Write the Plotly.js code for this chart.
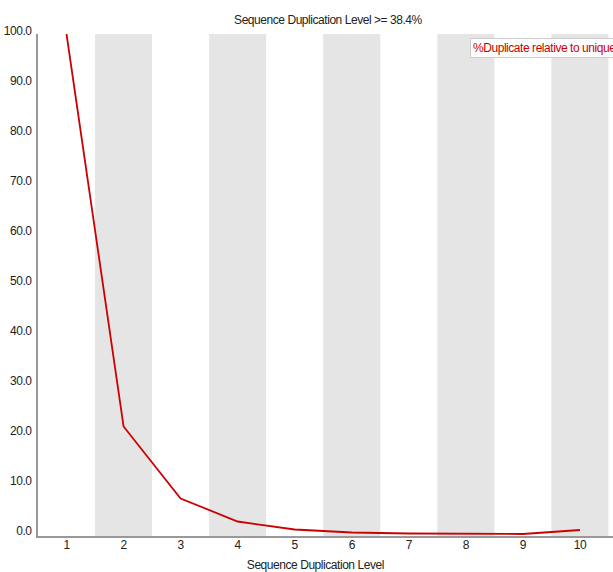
<!DOCTYPE html>
<html><head><meta charset="utf-8">
<script src="https://cdn.plot.ly/plotly-3.0.1.min.js"></script>
<style>html,body{margin:0;padding:0;background:#fff;overflow:hidden}
#chart text{letter-spacing:-0.45px;}</style>
</head><body>
<div id="chart" style="width:613px;height:572px"></div>
<script>
const levels = [1, 2, 3, 4, 5, 6, 7, 8, 9, 10];
const tickLabels = ["1", "2", "3", "4", "5", "6", "7", "8", "9", "10"];
const pctDuplicate = [100, 21.5, 7.1, 2.5, 0.9, 0.3, 0.1, 0.0, 0.0, 0.8];
const seriesName = "%Duplicate relative to unique";
const chartTitle = "Sequence Duplication Level >= 38.4%";
const xTitle = "Sequence Duplication Level";
const yTicks = [0, 10, 20, 30, 40, 50, 60, 70, 80, 90, 100];

const font = "'Liberation Sans', Arial, sans-serif";
const shapes = levels.filter(v => v % 2 === 0).map(v => ({
  type: "rect", xref: "x", yref: "paper", x0: v - 0.5, x1: v + 0.5, y0: 0, y1: 1,
  fillcolor: "#e5e5e5", line: {width: 0}, layer: "below"
}));

Plotly.newPlot("chart", [{
  x: levels, y: pctDuplicate, type: "scatter", mode: "lines", name: seriesName,
  line: {color: "#cc0000", width: 1.8}, showlegend: false
}], {
  width: 613, height: 572,
  margin: {l: 38, r: 0, t: 34, b: 36},
  paper_bgcolor: "#fff", plot_bgcolor: "#fff",
  font: {family: font, size: 12, color: "#222"},
  title: {text: chartTitle, x: 0.535, xanchor: "center", y: 0.965, yanchor: "middle", font: {family: font, size: 12, color: "#222"}},
  xaxis: {
    range: [0.5, 10.58], tickvals: levels, ticktext: tickLabels,
    showgrid: false, zeroline: false, showline: true, linecolor: "#999", linewidth: 2,
    ticks: "", tickfont: {size: 12}, ticklabelstandoff: -3
  },
  yaxis: {
    range: [-0.4, 100], tickvals: yTicks, ticktext: yTicks.map(v => v.toFixed(1)),
    showgrid: false, zeroline: false, showline: true, linecolor: "#999", linewidth: 2,
    ticks: "", tickfont: {size: 12}, ticklabelshift: -3, ticklabelstandoff: 2
  },
  shapes: shapes,
  annotations: [{
    xref: "paper", yref: "paper", x: (470 - 38) / 575, y: 1 - (48 - 34) / 502,
    xanchor: "left", yanchor: "middle", showarrow: false, align: "left",
    text: seriesName, font: {family: font, size: 12, color: "#cc0000"},
    bgcolor: "#fff", bordercolor: "#ccc", borderwidth: 1, borderpad: 2
  }, {
    xref: "paper", yref: "paper", x: (315 - 38) / 575, y: -(565 - 536) / 502,
    xanchor: "center", yanchor: "middle", showarrow: false,
    text: xTitle, font: {family: font, size: 12, color: "#222"}
  }]
}, {displayModeBar: false, staticPlot: true});
</script>
</body></html>
